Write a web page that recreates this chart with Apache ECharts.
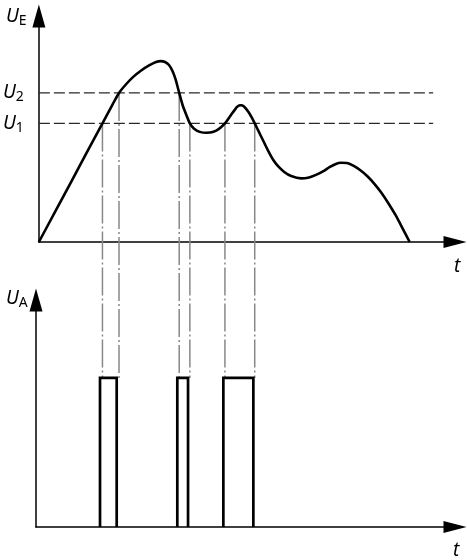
<!DOCTYPE html>
<html><head><meta charset="utf-8">
<script src="https://cdn.jsdelivr.net/npm/echarts@6/dist/echarts.min.js"></script>
<style>html,body{margin:0;padding:0;background:#fff}#c{width:467px;height:560px}</style>
</head><body><div id="c"></div>
<script>
// Input voltage U_E over time t (arbitrary units)
const timeE = [0, 3.71, 7.42, 11.14, 14.85, 17.17, 18.72, 20.42, 22.04, 23.90, 25.75, 27.38, 28.42, 29.47, 30.39, 31.21, 31.90, 32.78, 33.64, 34.45, 35.27, 36.19, 37.59, 39.21, 40.60, 41.99, 43.46, 44.55, 45.71, 46.40, 47.17, 47.91, 48.96, 49.65, 50.42, 51.28, 52.44, 53.60, 54.76, 55.92, 57.31, 58.93, 61.25, 63.11, 64.73, 66.36, 67.98, 69.37, 70.53, 71.93, 73.55, 75.17, 76.80, 78.42, 80.05, 81.67, 83.29, 84.92, 86.61];
const voltE = [0, 1.29, 2.58, 3.89, 5.18, 5.99, 6.51, 6.90, 7.21, 7.49, 7.71, 7.86, 7.90, 7.86, 7.73, 7.47, 7.12, 6.51, 5.94, 5.55, 5.18, 4.96, 4.81, 4.77, 4.80, 4.93, 5.18, 5.46, 5.76, 5.92, 5.97, 5.92, 5.68, 5.46, 5.18, 4.85, 4.41, 3.97, 3.58, 3.30, 3.06, 2.88, 2.78, 2.82, 2.93, 3.08, 3.28, 3.41, 3.46, 3.45, 3.32, 3.12, 2.86, 2.53, 2.14, 1.68, 1.18, 0.61, 0];
// thresholds
const U1 = 5.18;
const U2 = 6.51;
const thresholdEnd = 92.1;
// switching instants and the level where they start
const switchTimes = [14.85, 18.72, 32.78, 35.27, 43.46, 50.42];
const switchLevels = [U1, U2, U2, U1, U1, U1];
// output pulses U_A
const pulseOn = [14.85, 32.78, 43.46];
const pulseOff = [18.72, 35.27, 50.42];
const UA_HIGH = 1;

const FONT = 'Noto Sans';
const rich = {
  u: {fontFamily: FONT, fontStyle: 'italic', fontWeight: 'normal', fontSize: 19, color: '#000', lineHeight: 22},
  s: {fontFamily: FONT, fontWeight: 'normal', fontSize: 14, color: '#000', padding: [9, 0, 0, 0], lineHeight: 16}
};
const axisLineStyle = {color: '#000', width: 1.5};

const chart = echarts.init(document.getElementById('c'), null, {renderer: 'canvas'});

const series = [];
series.push({
  type: 'line', xAxisIndex: 0, yAxisIndex: 0, data: timeE.map((t, i) => [t, voltE[i]]),
  smooth: 0.3, symbol: 'none', lineStyle: {color: '#000', width: 2.6}, z: 5, animation: false
});
[U1, U2].forEach(u => series.push({
  type: 'line', xAxisIndex: 0, yAxisIndex: 0, data: [[0, u], [thresholdEnd, u]],
  symbol: 'none', lineStyle: {color: '#2a2a2a', width: 1.3, type: [11, 4]}, z: 3, animation: false
}));
switchTimes.forEach((t, i) => series.push({
  id: 'v' + i, type: 'line', xAxisIndex: 0, yAxisIndex: 0, clip: false,
  data: [[t, switchLevels[i]], [t, 0]],
  symbol: 'none', lineStyle: {color: '#888', width: 1.5, type: [28, 3, 2, 3]}, z: 2, animation: false
}));
pulseOn.forEach((t, i) => series.push({
  type: 'line', xAxisIndex: 1, yAxisIndex: 1,
  data: [[t, 0], [t, UA_HIGH], [pulseOff[i], UA_HIGH], [pulseOff[i], 0]],
  symbol: 'none', lineStyle: {color: '#000', width: 2.7, join: 'miter'}, z: 5, animation: false
}));

const xAxisBase = {
  type: 'value', min: 0, max: 97.2,
  axisLine: {show: true, lineStyle: axisLineStyle, symbol: ['none', 'triangle'], symbolSize: [12, 23]},
  axisTick: {show: false}, axisLabel: {show: false}, splitLine: {show: false}
};
const tStyle = {fontFamily: FONT, fontStyle: 'italic', fontSize: 19, fontWeight: 'normal', color: '#000'};
const option = {
  animation: false,
  backgroundColor: '#fff',
  title: [
    {text: '{u|U}{s|E}', left: 1, top: 1, textStyle: {fontWeight: 'normal', rich}},
    {text: '{u|U}{s|A}', left: 1, top: 283, textStyle: {fontWeight: 'normal', rich}},
    {text: 't', left: 449, top: 252, textStyle: tStyle},
    {text: 't', left: 448, top: 536, textStyle: tStyle}
  ],
  grid: [
    {left: 36, top: 16, width: 419, height: 226},
    {left: 36, top: 300, width: 419, height: 227}
  ],
  xAxis: [Object.assign({gridIndex: 0}, xAxisBase), Object.assign({gridIndex: 1}, xAxisBase)],
  yAxis: [
    {gridIndex: 0, type: 'value', min: 0, max: 9.87,
     axisLine: {show: true, lineStyle: axisLineStyle, symbol: ['none', 'triangle'], symbolSize: [13, 23]},
     axisTick: {show: false}, splitLine: {show: false},
     axisLabel: {show: true, customValues: [U1, U2], margin: 15,
       formatter: v => Math.abs(v - U1) < 1e-6 ? '{u|U}{s|1}' : '{u|U}{s|2}', rich}},
    {gridIndex: 1, type: 'value', min: 0, max: 1.523,
     axisLine: {show: true, lineStyle: axisLineStyle, symbol: ['none', 'triangle'], symbolSize: [13, 23]},
     axisTick: {show: false}, axisLabel: {show: false}, splitLine: {show: false}}
  ],
  series
};
chart.setOption(option);

// extend the dash-dot guide lines down to the pulse top in the lower chart
const pxTop = chart.convertToPixel({gridIndex: 1}, [0, UA_HIGH]);
const yEnd = chart.convertFromPixel({gridIndex: 0}, pxTop)[1];
chart.setOption({
  series: switchTimes.map((t, i) => ({id: 'v' + i, data: [[t, switchLevels[i]], [t, yEnd]]}))
});
</script>
</body></html>
